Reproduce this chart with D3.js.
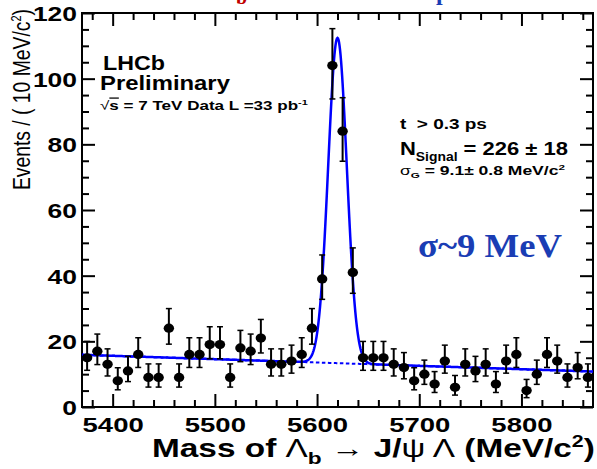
<!DOCTYPE html>
<html>
<head>
<meta charset="utf-8">
<script src="https://cdn.jsdelivr.net/npm/d3@7"></script>
<style>
  html, body { margin: 0; padding: 0; background: #fff; }
  svg { display: block; }
  text { font-family: "Liberation Sans", Arial, Helvetica, sans-serif; white-space: pre; }
</style>
</head>
<body>
<svg id="chart" width="597" height="469"></svg>
<script>
// ---------------- data ----------------
const massBins = [5375,5385,5395,5405,5415,5425,5435,5445,5455,5465,
                  5475,5485,5495,5505,5515,5525,5535,5545,5555,5565,
                  5575,5585,5595,5605,5615,5625,5635,5645,5655,5665,
                  5675,5685,5695,5705,5715,5725,5735,5745,5755,5765,
                  5775,5785,5795,5805,5815,5825,5835,5845,5855,5865];
const counts   = [15,17,13,8,11,16,9,9,24,9,
                  16,16,19,19,9,18,17,21,13,13,
                  14,16,24,39,104,84,41,15,15,15,
                  13,12,8,10,7,14,6,13,11,13,
                  7,14,16,5,10,16,14,9,12,9];
const xMajorTicks = [5400,5500,5600,5700,5800];
const xMinorTicks = [5380,5420,5440,5460,5480,5520,5540,5560,5580,5620,5640,5660,5680,5720,5740,5760,5780,5820,5840,5860];
const yMajorTicks = [0,20,40,60,80,100,120];
const yMinorTicks = [5,10,15,25,30,35,45,50,55,65,70,75,85,90,95,105,110,115];
// fit parameters (from the plot's legend)
const nSignal = 226, sigmaG = 9.1, meanMass = 5620, binWidth = 10;
const bkgStart = 15.9, bkgSlope = -0.0102; // linear background, per MeV from 5370
const massRange = [5370, 5870];
const countRange = [0, 120];

// ---------------- setup ----------------
const svg = d3.select("#chart");
const X0 = 82, X1 = 593, Y0 = 13, Y1 = 407;
const x = d3.scaleLinear().domain(massRange).range([X0, X1]);
const y = d3.scaleLinear().domain(countRange).range([Y1, Y0]);

function stretchedText(parent, px, py, anchor, target, build) {
  const g = parent.append("g");
  const t = g.append("text").attr("text-anchor", anchor);
  build(t);
  const sx = target ? target / t.node().getComputedTextLength() : 1;
  g.attr("transform", `translate(${px},${py}) scale(${sx},1)`);
  return t;
}

// partial (cropped) slide title at top edge
svg.append("text").attr("x", 236).attr("y", 4)
  .style("font-family", "'Liberation Serif', serif").style("font-weight", "bold")
  .style("font-size", "20px").attr("fill", "#c00000").text("b");
svg.append("text").attr("x", 436).attr("y", 0)
  .style("font-family", "'Liberation Serif', serif").style("font-weight", "bold")
  .style("font-size", "24px").attr("fill", "#1a3db4").text("p");

// ---------------- axes ----------------
function styleAxis(g) {
  g.select(".domain").remove();
  g.selectAll(".tick line").attr("stroke", "#000").attr("stroke-width", 2);
}
svg.append("g").attr("transform", `translate(0,${Y1})`)
  .call(d3.axisBottom(x).tickValues(xMinorTicks).tickSizeInner(-7).tickSizeOuter(0).tickFormat(""))
  .call(styleAxis);
const xAx = svg.append("g").attr("transform", `translate(0,${Y1})`)
  .call(d3.axisBottom(x).tickValues(xMajorTicks).tickSizeInner(-13).tickSizeOuter(0).tickFormat(d3.format("d")))
  .call(styleAxis);
svg.append("g").attr("transform", `translate(0,${Y0})`)
  .call(d3.axisTop(x).tickValues(xMinorTicks).tickSizeInner(-7).tickSizeOuter(0).tickFormat(""))
  .call(styleAxis);
svg.append("g").attr("transform", `translate(0,${Y0})`)
  .call(d3.axisTop(x).tickValues(xMajorTicks).tickSizeInner(-13).tickSizeOuter(0).tickFormat(""))
  .call(styleAxis);
svg.append("g").attr("transform", `translate(${X0},0)`)
  .call(d3.axisLeft(y).tickValues(yMinorTicks).tickSizeInner(-7).tickSizeOuter(0).tickFormat(""))
  .call(styleAxis);
const yAx = svg.append("g").attr("transform", `translate(${X0},0)`)
  .call(d3.axisLeft(y).tickValues(yMajorTicks).tickSizeInner(-13).tickSizeOuter(0).tickFormat(d3.format("d")))
  .call(styleAxis);
svg.append("g").attr("transform", `translate(${X1},0)`)
  .call(d3.axisRight(y).tickValues(yMinorTicks).tickSizeInner(-7).tickSizeOuter(0).tickFormat(""))
  .call(styleAxis);
svg.append("g").attr("transform", `translate(${X1},0)`)
  .call(d3.axisRight(y).tickValues(yMajorTicks).tickSizeInner(-13).tickSizeOuter(0).tickFormat(""))
  .call(styleAxis);

xAx.selectAll(".tick text")
  .attr("fill", "#000").attr("y", 0).attr("dy", 0).attr("x", 0)
  .style("font-size", "21px").style("font-weight", "bold").attr("text-anchor", "middle")
  .each(function(d) {
    const sx = (String(d).length * 15.3) / this.getComputedTextLength();
    d3.select(this).attr("transform", `translate(0,25) scale(${sx},1)`);
  });
yAx.selectAll(".tick text")
  .attr("fill", "#000").attr("x", 0).attr("dy", "0.36em")
  .style("font-size", "21px").style("font-weight", "bold").attr("text-anchor", "end")
  .each(function(d) {
    const sx = (String(d).length * 14.7) / this.getComputedTextLength();
    d3.select(this).attr("transform", `translate(-5,0) scale(${sx},1)`);
  });

svg.append("rect").attr("x", X0).attr("y", Y0).attr("width", X1 - X0).attr("height", Y1 - Y0)
  .attr("fill", "none").attr("stroke", "#000").attr("stroke-width", 2);

// ---------------- fit curves ----------------
const bkg = m => bkgStart + bkgSlope * (m - massRange[0]);
const total = m => bkg(m) + nSignal * binWidth / (Math.sqrt(2 * Math.PI) * sigmaG) *
                  Math.exp(-((m - meanMass) ** 2) / (2 * sigmaG * sigmaG));
const curveMass = d3.range(massRange[0], massRange[1] + 0.01, 0.5);

svg.append("path")
  .attr("d", d3.line().x(m => x(m)).y(m => y(bkg(m)))(curveMass))
  .attr("fill", "none").attr("stroke", "#0000ff").attr("stroke-width", 2)
  .attr("stroke-dasharray", "3.5,2.5");
svg.append("path")
  .attr("d", d3.line().x(m => x(m)).y(m => y(total(m)))(curveMass))
  .attr("fill", "none").attr("stroke", "#0000ff").attr("stroke-width", 2.5);

// ---------------- data points ----------------
function poissonInterval(n) {
  const lo = n * Math.pow(1 - 1 / (9 * n) - 1 / (3 * Math.sqrt(n)), 3);
  const hi = n + Math.sqrt(n + 0.75) + 1;
  return [lo, hi];
}
const pts = massBins.map((m, i) => {
  const [lo, hi] = poissonInterval(counts[i]);
  return { m, n: counts[i], lo, hi };
});
const dg = svg.append("g");
dg.selectAll("line.err").data(pts).join("line").attr("class", "err")
  .attr("x1", d => x(d.m)).attr("x2", d => x(d.m))
  .attr("y1", d => y(d.lo)).attr("y2", d => y(d.hi))
  .attr("stroke", "#000").attr("stroke-width", 2);
dg.selectAll("line.capT").data(pts).join("line").attr("class", "capT")
  .attr("x1", d => x(d.m) - 3).attr("x2", d => x(d.m) + 3)
  .attr("y1", d => y(d.hi)).attr("y2", d => y(d.hi))
  .attr("stroke", "#000").attr("stroke-width", 1.5);
dg.selectAll("line.capB").data(pts).join("line").attr("class", "capB")
  .attr("x1", d => x(d.m) - 3).attr("x2", d => x(d.m) + 3)
  .attr("y1", d => y(d.lo)).attr("y2", d => y(d.lo))
  .attr("stroke", "#000").attr("stroke-width", 1.5);
dg.selectAll("ellipse").data(pts).join("ellipse")
  .attr("cx", d => x(d.m)).attr("cy", d => y(d.n))
  .attr("rx", 5.2).attr("ry", 4.6).attr("fill", "#000");

// ---------------- texts ----------------
{
  const g = svg.append("g");
  const t = g.append("text").attr("text-anchor", "end").attr("transform", "rotate(-90)")
    .style("font-size", "17px").attr("fill", "#000");
  t.append("tspan").text("Events / ( 10 MeV/c");
  t.append("tspan").attr("dy", -7).style("font-size", "11px").text("2");
  t.append("tspan").attr("dy", 7).text(")");
  const w = t.node().getComputedTextLength();
  t.style("font-size", (17 * 182 / w) + "px");
  g.attr("transform", `translate(30,9) scale(1.25,1)`);
}

stretchedText(svg, 152, 457, "start", 443, t => {
  t.style("font-size", "25px").style("font-weight", "bold").attr("fill", "#000");
  t.append("tspan").text("Mass of ");
  t.append("tspan").style("font-weight", "normal").text("Λ");
  t.append("tspan").attr("dy", 7).style("font-size", "17px").text("b");
  t.append("tspan").attr("dy", -7).style("font-weight", "normal").text(" → ");
  t.append("tspan").text("J/");
  t.append("tspan").style("font-weight", "normal").text("ψ Λ");
  t.append("tspan").text(" (MeV/c");
  t.append("tspan").attr("dy", -10).style("font-size", "16px").text("2");
  t.append("tspan").attr("dy", 10).text(")");
});

stretchedText(svg, 103, 70, "start", 62, t => {
  t.style("font-size", "20px").style("font-weight", "bold").text("LHCb");
});
stretchedText(svg, 100, 90, "start", 130, t => {
  t.style("font-size", "20px").style("font-weight", "bold").text("Preliminary");
});
stretchedText(svg, 100, 110, "start", 208, t => {
  t.style("font-size", "12.5px").style("font-weight", "bold");
  t.append("tspan").style("font-weight", "normal").text("√");
  t.append("tspan").style("text-decoration", "overline").text("s");
  t.append("tspan").text(" = 7 TeV Data L =33 pb");
  t.append("tspan").attr("dy", -5).style("font-size", "8px").text("-1");
});

stretchedText(svg, 400, 129, "start", 87, t => {
  t.style("font-size", "14px").style("font-weight", "bold").text("t  > 0.3 ps");
});
stretchedText(svg, 400, 155, "start", 168, t => {
  t.style("font-size", "19px").style("font-weight", "bold");
  t.append("tspan").text("N");
  t.append("tspan").attr("dy", 6).style("font-size", "12px").text("Signal");
  t.append("tspan").attr("dy", -6).text(" = 226 ± 18");
});
stretchedText(svg, 400, 175, "start", 165, t => {
  t.style("font-size", "12px").style("font-weight", "bold");
  t.append("tspan").style("font-weight", "normal").text("σ");
  t.append("tspan").attr("dy", 3).style("font-size", "8px").text("G");
  t.append("tspan").attr("dy", -3).text(" = 9.1± 0.8 MeV/c");
  t.append("tspan").attr("dy", -5).style("font-size", "8px").text("2");
});

stretchedText(svg, 418, 257, "start", 144, t => {
  t.style("font-family", "'Liberation Serif', 'Times New Roman', serif")
   .style("font-size", "34px").style("font-weight", "bold").attr("fill", "#1a3db4")
   .text("σ~9 MeV");
});
</script>
</body>
</html>
